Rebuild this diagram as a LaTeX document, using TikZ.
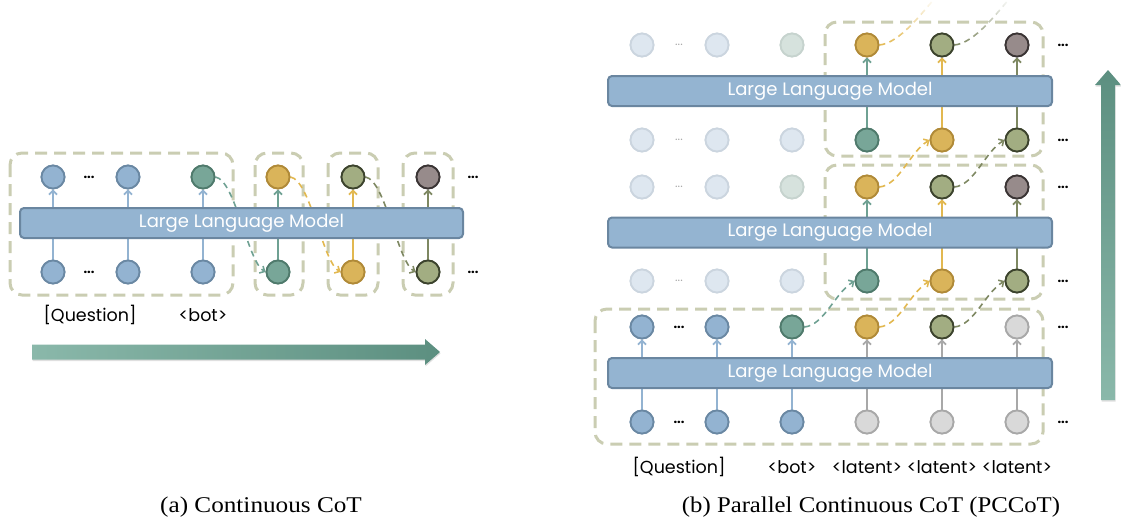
\documentclass[tikz,border=0pt]{standalone}
\usepackage{fontspec}
\setmainfont{Liberation Serif}
\newfontfamily\pop{Poppins}
\usetikzlibrary{arrows.meta,fadings,shadows}
\definecolor{bluef}{HTML}{93B3D1}\definecolor{blued}{HTML}{6A88A3}
\definecolor{tealf}{HTML}{78A698}\definecolor{teald}{HTML}{4F7A6C}
\definecolor{yelf}{HTML}{DAB45A}\definecolor{yeld}{HTML}{B08A38}
\definecolor{olif}{HTML}{A2AD82}\definecolor{olid}{HTML}{3C432D}
\definecolor{purf}{HTML}{978B8B}\definecolor{purd}{HTML}{3A3434}
\definecolor{grayf}{HTML}{D9D9D9}\definecolor{grayd}{HTML}{A8A8A8}
\definecolor{fadf}{HTML}{DEE7F0}\definecolor{fadd}{HTML}{CBD5DF}
\definecolor{fadgf}{HTML}{D6E2DD}\definecolor{fadgd}{HTML}{C6D3CE}
\definecolor{llmf}{HTML}{94B4D1}\definecolor{llmd}{HTML}{6A86A0}
\definecolor{boxc}{HTML}{CACDB2}
\definecolor{lblue}{HTML}{93B3D1}\definecolor{lteal}{HTML}{6FA193}
\definecolor{lyel}{HTML}{E2B850}\definecolor{loli}{HTML}{7E8862}
\definecolor{lgray}{HTML}{A8A8A8}
\definecolor{arrA}{HTML}{8AB8AA}\definecolor{arrB}{HTML}{5C8F80}
\tikzset{
  tok/.style={circle,minimum size=23pt,inner sep=0pt,line width=1.8pt},
  tblue/.style={tok,fill=bluef,draw=blued},
  tteal/.style={tok,fill=tealf,draw=teald},
  tyel/.style={tok,fill=yelf,draw=yeld},
  toli/.style={tok,fill=olif,draw=olid},
  tpur/.style={tok,fill=purf,draw=purd},
  tgray/.style={tok,fill=grayf,draw=grayd},
  tfad/.style={tok,fill=fadf,draw=fadd},
  tfadg/.style={tok,fill=fadgf,draw=fadgd},
  llm/.style={rounded corners=4pt,fill=llmf,draw=llmd,line width=2pt,
    font=\pop\fontsize{18}{20}\selectfont,text=white,inner sep=0pt,
    minimum height=30pt},
  grp/.style={draw=boxc,line width=3pt,dash pattern=on 12pt off 7pt,rounded corners=12pt},
  up/.style={-{Straight Barb[length=4pt,width=8pt]},line width=1.8pt},
  curv/.style={-{Straight Barb[length=4pt,width=8pt,line width=1.6pt]},line width=1.6pt,dash pattern=on 6pt off 4.5pt},
  lab/.style={font=\pop\fontsize{17.5}{20}\selectfont,inner sep=0pt},
  dotsb/.style={font=\pop\bfseries\fontsize{13}{13}\selectfont,inner sep=0pt},
  dotsf/.style={font=\pop\fontsize{12}{12}\selectfont,inner sep=0pt,text=lgray},
  captxt/.style={font=\fontsize{22.5}{26}\selectfont,inner sep=0pt},
}
\begin{document}
\begin{tikzpicture}[x=1pt,y=-1pt]
\useasboundingbox (0,0) rectangle (1121,522);
% ---------- dashed groups ----------
\draw[grp] (10,153) rectangle (233,295);
\draw[grp] (255,153) rectangle (303,295);
\draw[grp] (328,153) rectangle (378,295);
\draw[grp] (403,153) rectangle (453,295);
\draw[grp] (595,309) rectangle (1043,444);
\draw[grp] (825,165) rectangle (1043,299);
\draw[grp] (825,22) rectangle (1043,156);
% ---------- left panel tokens ----------
\foreach \i/\x/\st in {1/53/tblue,2/128/tblue,3/203/tteal,4/278/tyel,5/353/toli,6/428/tpur}
  \node[\st] (Lt\i) at (\x,177) {};
\foreach \i/\x/\st in {1/53/tblue,2/128/tblue,3/203/tblue,4/278/tteal,5/353/tyel,6/428/toli}
  \node[\st] (Lb\i) at (\x,272) {};
\foreach \i/\c in {1/lblue,2/lblue,3/lblue,4/lteal,5/lyel,6/loli}
  \draw[up,\c] (Lb\i) -- (Lt\i);
\draw[curv,lteal] (Lt3.east) .. controls +(20,3) and +(-18,-10) .. (Lb4.west);
\draw[curv,lyel] (Lt4.east) .. controls +(20,3) and +(-18,-10) .. (Lb5.west);
\draw[curv,loli] (Lt5.east) .. controls +(20,3) and +(-18,-10) .. (Lb6.west);
\node[llm,minimum width=443pt] (Lllm) at (241.5,223) {Large Language Model};
\foreach \i/\x/\st in {1/53/tblue,2/128/tblue,3/203/tteal,4/278/tyel,5/353/toli,6/428/tpur}
  \node[\st] at (\x,177) {};
\foreach \i/\x/\st in {1/53/tblue,2/128/tblue,3/203/tblue,4/278/tteal,5/353/tyel,6/428/toli}
  \node[\st] at (\x,272) {};
\node[dotsb] (Ld1) at (89,177) {...};
\node[dotsb] (Ld2) at (89,272) {...};
\node[dotsb] (Ld3) at (473,177) {...};
\node[dotsb] (Ld4) at (473,272) {...};
\node[lab] (Lq) at (90,315) {[Question]};
\node[lab] (Lbot) at (203,315) {<bot>};
% ---------- right panel: bottom block ----------
\foreach \i/\x/\st in {1/642/tblue,2/717/tblue,3/792/tteal,4/867/tyel,5/942/toli,6/1017/tgray}
  \node[\st] (Bo\i) at (\x,327) {};
\foreach \i/\x/\st in {1/642/tblue,2/717/tblue,3/792/tblue,4/867/tgray,5/942/tgray,6/1017/tgray}
  \node[\st] (Bi\i) at (\x,422) {};
\foreach \i/\c in {1/lblue,2/lblue,3/lblue,4/lgray,5/lgray,6/lgray}
  \draw[up,\c] (Bi\i) -- (Bo\i);
% middle block
\foreach \i/\x/\st in {1/642/tfad,2/717/tfad,3/792/tfadg,4/867/tyel,5/942/toli,6/1017/tpur}
  \node[\st] (Mo\i) at (\x,187) {};
\foreach \i/\x/\st in {1/642/tfad,2/717/tfad,3/792/tfad,4/867/tteal,5/942/tyel,6/1017/toli}
  \node[\st] (Mi\i) at (\x,281) {};
\foreach \i/\c in {4/lteal,5/lyel,6/loli}
  \draw[up,\c] (Mi\i) -- (Mo\i);
% top block
\foreach \i/\x/\st in {1/642/tfad,2/717/tfad,3/792/tfadg,4/867/tyel,5/942/toli,6/1017/tpur}
  \node[\st] (To\i) at (\x,45) {};
\foreach \i/\x/\st in {1/642/tfad,2/717/tfad,3/792/tfad,4/867/tteal,5/942/tyel,6/1017/toli}
  \node[\st] (Ti\i) at (\x,140) {};
\foreach \i/\c in {4/lteal,5/lyel,6/loli}
  \draw[up,\c] (Ti\i) -- (To\i);
% curved links
\draw[curv,lteal] (Bo3.east) .. controls +(20,-2) and +(-20,12) .. (Mi4.west);
\draw[curv,lyel] (Bo4.east) .. controls +(20,-2) and +(-20,12) .. (Mi5.west);
\draw[curv,loli] (Bo5.east) .. controls +(20,-2) and +(-20,12) .. (Mi6.west);
\draw[curv,lyel] (Mo4.east) .. controls +(20,-2) and +(-20,12) .. (Ti5.west);
\draw[curv,loli] (Mo5.east) .. controls +(20,-2) and +(-20,12) .. (Ti6.west);
\coordinate (Fy) at (935,-2);
\coordinate (Fo) at (1010,-2);
\draw[lyel,line width=1.6pt,dash pattern=on 6pt off 4.5pt,path fading=north]
  (To4.east) .. controls +(20,-2) and +(-14,16) .. (Fy);
\draw[loli,line width=1.6pt,dash pattern=on 6pt off 4.5pt,path fading=north]
  (To5.east) .. controls +(20,-2) and +(-14,16) .. (Fo);
% LLM boxes
\node[llm,minimum width=444pt] (Bllm) at (830,373) {Large Language Model};
\node[llm,minimum width=444pt] (Mllm) at (830,232.5) {Large Language Model};
\node[llm,minimum width=444pt] (Tllm) at (830,91) {Large Language Model};
% redraw tokens on top
\foreach \i/\x/\st in {1/642/tblue,2/717/tblue,3/792/tteal,4/867/tyel,5/942/toli,6/1017/tgray}
  \node[\st] at (\x,327) {};
\foreach \i/\x/\st in {1/642/tblue,2/717/tblue,3/792/tblue,4/867/tgray,5/942/tgray,6/1017/tgray}
  \node[\st] at (\x,422) {};
\foreach \y in {187,45}{
\foreach \i/\x/\st in {1/642/tfad,2/717/tfad,3/792/tfadg,4/867/tyel,5/942/toli,6/1017/tpur}
  \node[\st] at (\x,\y) {};}
\foreach \y in {281,140}{
\foreach \i/\x/\st in {1/642/tfad,2/717/tfad,3/792/tfad,4/867/tteal,5/942/tyel,6/1017/toli}
  \node[\st] at (\x,\y) {};}
% dots
\node[dotsb] (Rd1) at (679,327) {...};
\node[dotsb] (Rd2) at (679,422) {...};
\node[dotsf] (Rd3) at (679,187) {...};
\node[dotsf] (Rd4) at (679,281) {...};
\node[dotsf] (Rd5) at (679,45) {...};
\node[dotsf] (Rd6) at (679,140) {...};
\foreach \y [count=\k] in {45,140,187,281,327,422}
  \node[dotsb] (Re\k) at (1063,\y) {...};
% labels
\node[lab] (Rq) at (679,467) {[Question]};
\node[lab] (Rbot) at (792,467) {<bot>};
\node[lab] (Rl1) at (867,467) {<latent>};
\node[lab] (Rl2) at (942,467) {<latent>};
\node[lab] (Rl3) at (1017,467) {<latent>};
% big arrows
\path[left color=arrA,right color=arrB,drop shadow={opacity=0.25,shadow xshift=0.5pt,shadow yshift=-1.5pt}]
  (32,344.5) -- (425,344.5) -- (425,339) -- (440,352) -- (425,365) -- (425,359.5) -- (32,359.5) -- cycle;
\path[top color=arrB,bottom color=arrA,drop shadow={opacity=0.25,shadow xshift=0.5pt,shadow yshift=-1.5pt}]
  (1101,400) -- (1101,85) -- (1095,85) -- (1108,70) -- (1121,85) -- (1115,85) -- (1115,400) -- cycle;
% captions
\node[captxt] (capa) at (261,507) {\scalebox{1.12}[1]{(a) Continuous CoT}};
\node[captxt] (capb) at (871,507) {\scalebox{1.1}[1]{(b) Parallel Continuous CoT (PCCoT)}};
\end{tikzpicture}
\end{document}
